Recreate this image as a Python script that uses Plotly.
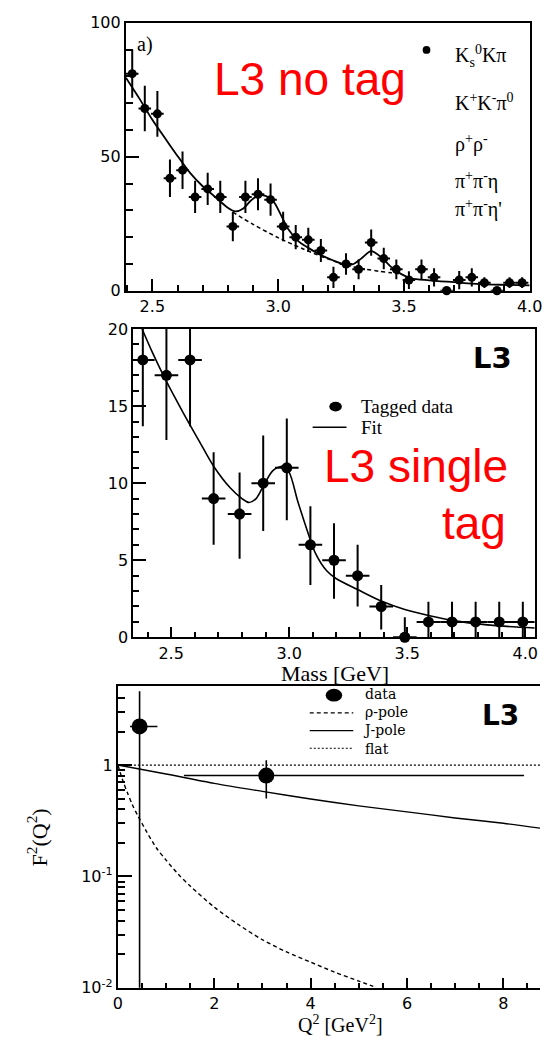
import plotly.graph_objects as go

W, H = 553, 1041

# ---------------- panel a) : untagged mass spectrum ----------------
mass_a = [2.42, 2.47, 2.52, 2.57, 2.62, 2.67, 2.72, 2.77, 2.82, 2.87, 2.92, 2.97,
          3.02, 3.07, 3.12, 3.17, 3.22, 3.27, 3.32, 3.37, 3.42, 3.47, 3.52, 3.57,
          3.62, 3.67, 3.72, 3.77, 3.82, 3.87, 3.92, 3.97]
events_a = [81, 68, 66, 42, 45, 35, 38, 35, 24, 35, 36, 34,
            24, 20, 19, 15, 5, 10, 8, 18, 12, 8, 4, 8,
            5, 0, 4, 5, 3, 0, 3, 3]
err_a = [9, 8.5, 8.5, 7, 7, 6, 6, 6, 5.5, 6, 6, 6,
         5.5, 4.5, 4.5, 4.3, 4, 4, 3.7, 4.9, 4, 3.7, 3.3, 3.7,
         3.4, 0, 3.4, 3.4, 2, 0, 2, 2]
bin_half_a = 0.025

fit_a_mass = [2.395, 2.45, 2.5, 2.55, 2.6, 2.65, 2.7, 2.75, 2.8, 2.83, 2.86, 2.89,
              2.92, 2.95, 2.98, 3.01, 3.04, 3.08, 3.12, 3.17, 3.22, 3.27, 3.3,
              3.33, 3.37, 3.41, 3.45, 3.49, 3.53, 3.6, 3.7, 3.8, 3.9, 4.0]
fit_a_val = [79.5, 71.5, 63.8, 57.0, 50.3, 44.0, 39.0, 35.0, 31.0, 29.6, 30.6, 33.5,
             35.5, 35.4, 33.5, 28.5, 23.0, 18.5, 16.0, 13.3, 11.3, 9.6, 10.0,
             12.0, 14.8, 12.5, 8.8, 6.2, 4.6, 3.9, 3.2, 2.5, 2.2, 2.0]
bkg_a_mass = [2.82, 2.9, 3.0, 3.1, 3.2, 3.27, 3.3, 3.35, 3.4, 3.45, 3.49]
bkg_a_val = [29.3, 24.8, 19.8, 15.6, 11.8, 9.6, 8.9, 8.0, 7.3, 6.7, 6.2]

# ---------------- panel b) : single-tag mass spectrum ----------------
mass_b = [2.38, 2.48, 2.58, 2.68, 2.79, 2.89, 2.99, 3.09, 3.19, 3.29, 3.39, 3.49,
          3.59, 3.69, 3.79, 3.89, 3.99]
events_b = [18, 17, 18, 9, 8, 10, 11, 6, 5, 4, 2, 0, 1, 1, 1, 1, 1]
err_up_b = [4.3, 4.2, 4.3, 3.0, 2.7, 3.1, 3.2, 2.5, 2.4, 2.0, 1.4, 1.3, 1.3, 1.3, 1.3, 1.3, 1.3]
err_dn_b = [4.3, 4.2, 4.3, 3.0, 2.9, 3.1, 3.4, 2.6, 2.5, 2.0, 1.5, 0, 1, 1, 1, 1, 1]
bin_half_b = 0.05

fit_b_mass = [2.377, 2.42, 2.48, 2.55, 2.62, 2.68, 2.75, 2.8, 2.83, 2.86, 2.89, 2.93,
              2.97, 3.0, 3.035, 3.075, 3.11, 3.16, 3.2, 3.29, 3.39, 3.49, 3.6, 3.69,
              3.79, 3.89, 4.04]
fit_b_val = [20.0, 18.5, 16.6, 14.6, 12.7, 11.1, 9.7, 9.0, 8.75, 9.0, 9.8, 10.8,
             11.1, 10.7, 8.9, 7.0, 5.5, 4.3, 3.8, 3.1, 2.35, 1.8, 1.38, 1.1,
             0.89, 0.74, 0.6]

# ---------------- panel c) : transition form factor ----------------
q2_data = [0.45, 3.08]
ff_data = [2.22, 0.805]
ff_err_up = [2.37, 0.30]
ff_err_dn = [2.215, 0.305]
q2_err_dn = [0.2, 1.71]
q2_err_up = [0.37, 5.35]

q2_rho = [0, 0.1, 0.2, 0.3, 0.4, 0.6, 0.8, 1.0, 1.25, 1.5, 2.0, 2.5, 3.0, 3.5,
          4.0, 4.5, 5.0, 5.3]
ff_rho = [1.0, 0.73, 0.56, 0.44, 0.36, 0.25, 0.18, 0.14, 0.105, 0.082, 0.053,
          0.037, 0.027, 0.021, 0.017, 0.0138, 0.0115, 0.0103]
q2_jpole = [0, 1, 2, 3, 4, 5, 6, 7, 8, 8.8]
ff_jpole = [1.0, 0.83, 0.685, 0.58, 0.495, 0.43, 0.38, 0.335, 0.30, 0.27]
q2_flat = [0, 8.8]
ff_flat = [1.0, 1.0]

mass_ticks = [2.5, 3.0, 3.5, 4.0]
mass_ticktext = ["2.5", "3.0", "3.5", "4.0"]
legend_c = ["data", "ρ-pole", "J-pole", "flat"]


def px_x(p):
    return p / W


def px_y(p):
    return 1 - p / H


fig = go.Figure()

# panel a
fig.add_trace(go.Scatter(
    x=mass_a, y=events_a, mode="markers", xaxis="x", yaxis="y",
    marker=dict(color="black", size=9),
    error_y=dict(type="data", array=err_a, color="black", thickness=2, width=0),
    error_x=dict(type="constant", value=bin_half_a, color="black", thickness=2, width=0),
))
zero_a = [m for m, v in zip(mass_a, events_a) if v == 0]
fig.add_trace(go.Scatter(
    x=zero_a, y=[0] * len(zero_a), mode="markers", xaxis="x", yaxis="y",
    marker=dict(color="black", size=9), cliponaxis=False,
))
fig.add_trace(go.Scatter(
    x=fit_a_mass, y=fit_a_val, mode="lines", xaxis="x", yaxis="y",
    line=dict(color="black", width=1.8, shape="spline", smoothing=0.8),
))
fig.add_trace(go.Scatter(
    x=bkg_a_mass, y=bkg_a_val, mode="lines", xaxis="x", yaxis="y",
    line=dict(color="black", width=1.5, dash="4px,3px", shape="spline", smoothing=0.8),
))

# panel b
fig.add_trace(go.Scatter(
    x=mass_b, y=events_b, mode="markers", xaxis="x2", yaxis="y2",
    marker=dict(color="black", size=11),
    error_y=dict(type="data", array=err_up_b, arrayminus=err_dn_b, color="black",
                 thickness=2, width=0),
    error_x=dict(type="constant", value=bin_half_b, color="black", thickness=2, width=0),
))
zero_b = [m for m, v in zip(mass_b, events_b) if v == 0]
fig.add_trace(go.Scatter(
    x=zero_b, y=[0] * len(zero_b), mode="markers", xaxis="x2", yaxis="y2",
    marker=dict(color="black", size=11), cliponaxis=False,
))
fig.add_trace(go.Scatter(
    x=fit_b_mass, y=fit_b_val, mode="lines", xaxis="x2", yaxis="y2",
    line=dict(color="black", width=1.6, shape="spline", smoothing=0.8),
))

# panel c
fig.add_trace(go.Scatter(
    x=q2_flat, y=ff_flat, mode="lines", xaxis="x3", yaxis="y3",
    line=dict(color="black", width=1.2, dash="2px,2px"),
))
fig.add_trace(go.Scatter(
    x=q2_jpole, y=ff_jpole, mode="lines", xaxis="x3", yaxis="y3",
    line=dict(color="black", width=1.4, shape="spline", smoothing=0.8),
))
fig.add_trace(go.Scatter(
    x=q2_rho, y=ff_rho, mode="lines", xaxis="x3", yaxis="y3",
    line=dict(color="black", width=1.4, dash="4px,3px", shape="spline", smoothing=0.8),
))
fig.add_trace(go.Scatter(
    x=q2_data, y=ff_data, mode="markers", xaxis="x3", yaxis="y3",
    marker=dict(color="black", size=16),
    error_y=dict(type="data", array=ff_err_up, arrayminus=ff_err_dn, color="black",
                 thickness=1.6, width=0),
    error_x=dict(type="data", array=q2_err_up, arrayminus=q2_err_dn, color="black",
                 thickness=1.6, width=0),
))

tickfont = dict(family="DejaVu Sans", size=16, color="black")
axis_common = dict(showline=True, linecolor="black", linewidth=2, ticks="inside",
                   tickcolor="black", tickwidth=1.5, showgrid=False, zeroline=False,
                   tickfont=tickfont)

fig.update_layout(
    width=W, height=H, margin=dict(l=0, r=0, t=0, b=0),
    paper_bgcolor="white", plot_bgcolor="white", showlegend=False,
    xaxis=dict(domain=[px_x(125), px_x(542.3)], range=[2.395, 4.0], anchor="y",
               mirror=True, tickmode="array", tickvals=mass_ticks, ticktext=mass_ticktext,
               ticklen=12,
               minor=dict(tickmode="linear", tick0=2.4, dtick=0.1, ticks="inside",
                          ticklen=6, tickcolor="black", tickwidth=1.5),
               **axis_common),
    yaxis=dict(domain=[px_y(287), px_y(14)], range=[0, 100], anchor="x",
               mirror=True, tickmode="array", tickvals=[0, 50, 100], ticklen=13,
               minor=dict(tickmode="linear", tick0=0, dtick=10, ticks="inside",
                          ticklen=7, tickcolor="black", tickwidth=1.5),
               **axis_common),
    xaxis2=dict(domain=[px_x(132.7), px_x(547.7)], range=[2.34, 4.041], anchor="y2",
                mirror=True, tickmode="array", tickvals=mass_ticks, ticktext=mass_ticktext,
                ticklen=10,
                minor=dict(tickmode="linear", tick0=2.4, dtick=0.1, ticks="inside",
                           ticklen=5, tickcolor="black", tickwidth=1.5),
                **axis_common),
    yaxis2=dict(domain=[px_y(640), px_y(326)], range=[0, 20], anchor="x2",
                mirror=True, tickmode="array", tickvals=[0, 5, 10, 15, 20], ticklen=13,
                minor=dict(tickmode="linear", tick0=0, dtick=1, ticks="inside",
                           ticklen=6, tickcolor="black", tickwidth=1.5),
                **axis_common),
    xaxis3=dict(domain=[px_x(116.7), 1.0], range=[0, 8.761], anchor="y3",
                mirror=True, tickmode="array", tickvals=[0, 2, 4, 6, 8], ticklen=10,
                minor=dict(tickmode="linear", tick0=0, dtick=0.5, ticks="inside",
                           ticklen=5, tickcolor="black", tickwidth=1.5),
                **axis_common),
    yaxis3=dict(domain=[px_y(997), px_y(690)], type="log", range=[-2, 0.706],
                anchor="x3", mirror=False, tickmode="array",
                tickvals=[0.01, 0.1, 1], ticktext=["10<sup>-2</sup>", "10<sup>-1</sup>", "1"],
                ticklen=14,
                minor=dict(tickmode="array",
                           tickvals=[0.02, 0.03, 0.04, 0.05, 0.06, 0.07, 0.08, 0.09,
                                     0.2, 0.3, 0.4, 0.5, 0.6, 0.7, 0.8, 0.9, 2, 3, 4, 5],
                           ticks="inside", ticklen=7, tickcolor="black", tickwidth=1.5),
                **axis_common),
)

serif = "Liberation Serif"
ann = []


def text(x, y, s, size, family=serif, color="black", xanchor="left", bold=False,
         textangle=0):
    ann.append(dict(x=px_x(x), y=px_y(y), xref="paper", yref="paper", text=s,
                    showarrow=False, xanchor=xanchor, yanchor="middle",
                    textangle=textangle, align="left",
                    font=dict(family=family, size=size, color=color,
                              weight="bold" if bold else "normal")))


# panel a labels
text(134, 36, "a)", 20)
text(214, 71, "L3 no tag", 46, family="Liberation Sans", color="red")
text(463, 48, "K<sub>s</sub><sup>0</sup>Kπ", 20)
text(463, 95, "K<sup>+</sup>K<sup>-</sup>π<sup>0</sup>", 20)
text(463, 137, "ρ<sup>+</sup>ρ<sup>-</sup>", 20)
text(463, 175, "π<sup>+</sup>π<sup>-</sup>η", 20)
text(463, 203, "π<sup>+</sup>π<sup>-</sup>η'", 20)

# panel b labels
text(482, 355, "L3", 29, family="DejaVu Sans", bold=True)
text(366, 405, "Tagged data", 19)
text(366, 426, "Fit", 19)
text(328, 466, "L3 single", 46, family="Liberation Sans", color="red")
text(520, 524, "tag", 46, family="Liberation Sans", color="red", xanchor="right")
text(341.5, 677, "Mass [GeV]", 22, xanchor="center")

# panel c labels
text(491, 720, "L3", 28, family="DejaVu Sans", bold=True)
text(368, 726, "<br>".join(legend_c), 14, family="DejaVu Serif")
text(346.5, 1034, "Q<sup>2</sup> [GeV<sup>2</sup>]", 20, xanchor="center")
text(33, 844, "F<sup>2</sup>(Q<sup>2</sup>)", 22, xanchor="center", textangle=-90)

fig.update_layout(annotations=ann)

# legend symbols
shapes = []


def dot(cx, cy, rx, ry):
    shapes.append(dict(type="circle", xref="paper", yref="paper",
                       x0=px_x(cx - rx), x1=px_x(cx + rx),
                       y0=px_y(cy + ry), y1=px_y(cy - ry),
                       fillcolor="black", line=dict(color="black", width=0)))


def seg(xa, xb, y, dash, width=1.4):
    shapes.append(dict(type="line", xref="paper", yref="paper",
                       x0=px_x(xa), x1=px_x(xb), y0=px_y(y), y1=px_y(y),
                       line=dict(color="black", width=width, dash=dash)))


dot(435.7, 41.7, 4, 4)
dot(341.7, 405, 6.5, 5)
seg(318, 353, 426, "solid")
dot(340, 699, 8.5, 6.5)
seg(315, 360, 717, "4px,3px")
seg(315, 360, 735, "solid")
seg(315, 360, 753, "2px,2px", width=1.1)

fig.update_layout(shapes=shapes)

fig.write_html("out.html")
